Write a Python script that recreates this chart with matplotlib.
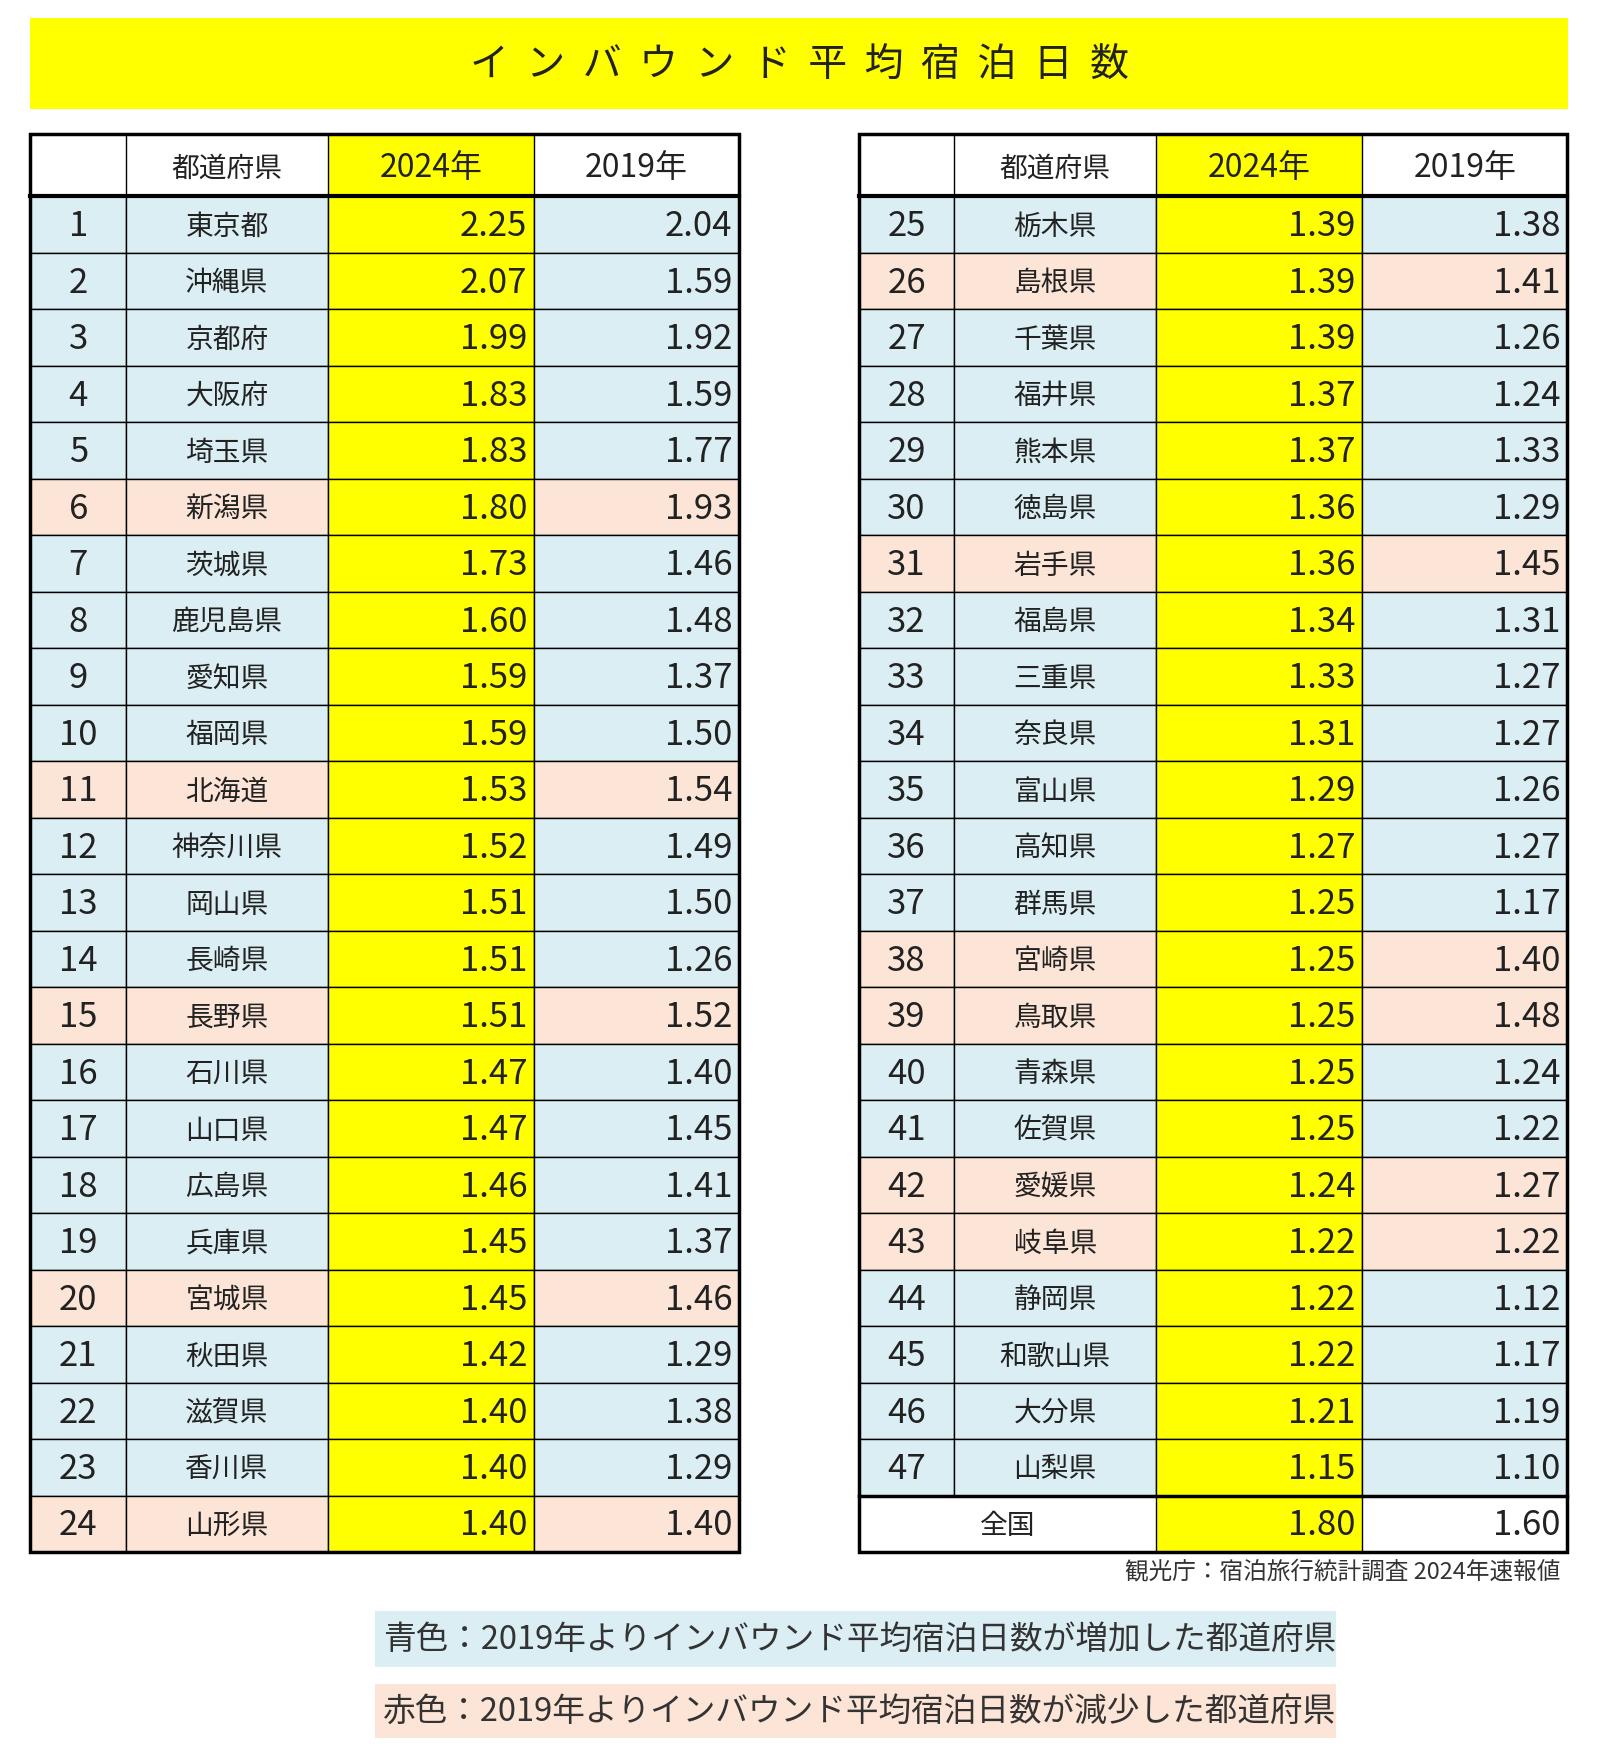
import matplotlib
matplotlib.use("Agg")
import matplotlib.pyplot as plt
from matplotlib.patches import Rectangle

plt.rcParams["font.family"] = "Noto Sans CJK JP"

title = "インバウンド平均宿泊日数"
headers = ["", "都道府県", "2024年", "2019年"]
ranks = list(range(1, 48))
prefs = ["東京都","沖縄県","京都府","大阪府","埼玉県","新潟県","茨城県","鹿児島県","愛知県","福岡県",
         "北海道","神奈川県","岡山県","長崎県","長野県","石川県","山口県","広島県","兵庫県","宮城県",
         "秋田県","滋賀県","香川県","山形県","栃木県","島根県","千葉県","福井県","熊本県","徳島県",
         "岩手県","福島県","三重県","奈良県","富山県","高知県","群馬県","宮崎県","鳥取県","青森県",
         "佐賀県","愛媛県","岐阜県","静岡県","和歌山県","大分県","山梨県"]
v2024 = [2.25,2.07,1.99,1.83,1.83,1.80,1.73,1.60,1.59,1.59,1.53,1.52,1.51,1.51,1.51,1.47,1.47,1.46,1.45,1.45,
         1.42,1.40,1.40,1.40,1.39,1.39,1.39,1.37,1.37,1.36,1.36,1.34,1.33,1.31,1.29,1.27,1.25,1.25,1.25,1.25,
         1.25,1.24,1.22,1.22,1.22,1.21,1.15]
v2019 = [2.04,1.59,1.92,1.59,1.77,1.93,1.46,1.48,1.37,1.50,1.54,1.49,1.50,1.26,1.52,1.40,1.45,1.41,1.37,1.46,
         1.29,1.38,1.29,1.40,1.38,1.41,1.26,1.24,1.33,1.29,1.45,1.31,1.27,1.27,1.26,1.27,1.17,1.40,1.48,1.24,
         1.22,1.27,1.22,1.12,1.17,1.19,1.10]
decreased = [6,11,15,20,24,26,31,38,39,42,43]
national = ("全国", 1.80, 1.60)
source = "観光庁：宿泊旅行統計調査 2024年速報値"
legend_blue = "青色：2019年よりインバウンド平均宿泊日数が増加した都道府県"
legend_red = "赤色：2019年よりインバウンド平均宿泊日数が減少した都道府県"

BLUE = "#DAEEF3"; RED = "#FCE4D6"; YEL = "#FFFF00"
W, H = 1420, 1566
fig = plt.figure(figsize=(16, 17.65), dpi=100)
ax = fig.add_axes([0, 0, 1, 1])
ax.set_xlim(0, W); ax.set_ylim(H, 0); ax.axis("off")

ax.add_patch(Rectangle((27, 17), 1365, 81, color=YEL, lw=0))
ax.text(710, 58, "  ".join(title), ha="center", va="center", fontsize=28, color="#222222")

top, hdr_b, bot = 120, 175, 1378
rh = (bot - hdr_b) / 24
fs_num, fs_name = 25, 20
TC = "#222222"

def table(x0, items, with_national):
    cols = [x0, x0 + 85, x0 + 264, x0 + 447, x0 + 629]
    ax.add_patch(Rectangle((cols[2], top), cols[3]-cols[2], hdr_b-top, color=YEL, lw=0))
    for j in range(1, 4):
        ax.text((cols[j]+cols[j+1])/2, (top+hdr_b)/2 + 2, headers[j], ha="center", va="center",
                fontsize=fs_name if j == 1 else 23, color=TC)
    for i, (r, p, a, b) in enumerate(items):
        y = hdr_b + i*rh
        bg = RED if r in decreased else BLUE
        for j in range(4):
            ax.add_patch(Rectangle((cols[j], y), cols[j+1]-cols[j], rh,
                                   facecolor=YEL if j == 2 else bg, edgecolor="black", lw=1))
        cy = y + rh/2 + 1
        ax.text((cols[0]+cols[1])/2, cy, str(r), ha="center", va="center", fontsize=fs_num, color=TC)
        ax.text((cols[1]+cols[2])/2, cy, p, ha="center", va="center", fontsize=fs_name, color=TC)
        ax.text(cols[3]-6, cy, f"{a:.2f}", ha="right", va="center", fontsize=fs_num, color=TC)
        ax.text(cols[4]-6, cy, f"{b:.2f}", ha="right", va="center", fontsize=fs_num, color=TC)
    if with_national:
        y = hdr_b + len(items)*rh
        ax.add_patch(Rectangle((cols[2], y), cols[3]-cols[2], rh, color=YEL, lw=0))
        cy = y + rh/2 + 1
        ax.text((cols[0]+cols[2])/2, cy, national[0], ha="center", va="center", fontsize=fs_name, color=TC)
        ax.text(cols[3]-6, cy, f"{national[1]:.2f}", ha="right", va="center", fontsize=fs_num, color=TC)
        ax.text(cols[4]-6, cy, f"{national[2]:.2f}", ha="right", va="center", fontsize=fs_num, color=TC)
        ax.plot([cols[0], cols[4]], [y, y], color="black", lw=2.5)
        for xx in cols[2:4]:
            ax.plot([xx, xx], [y, bot], color="black", lw=1)
    for xx in cols[1:4]:
        ax.plot([xx, xx], [top, hdr_b], color="black", lw=1)
    ax.plot([cols[0], cols[4]], [hdr_b, hdr_b], color="black", lw=3)
    ax.add_patch(Rectangle((cols[0], top), cols[4]-cols[0], bot-top, fill=False, edgecolor="black", lw=2.5))

items = list(zip(ranks, prefs, v2024, v2019))
table(27, items[:24], False)
table(762, items[24:], True)

ax.text(1385, 1395, source, ha="right", va="center", fontsize=17, color="#333333")
ax.add_patch(Rectangle((333, 1430), 853, 50, color=BLUE, lw=0))
ax.text(340, 1455, legend_blue, ha="left", va="center", fontsize=23.5, color="#333333")
ax.add_patch(Rectangle((333, 1495), 853, 48, color=RED, lw=0))
ax.text(340, 1519, legend_red, ha="left", va="center", fontsize=23.5, color="#333333")

fig.savefig("out.png", dpi=100, facecolor="white")
